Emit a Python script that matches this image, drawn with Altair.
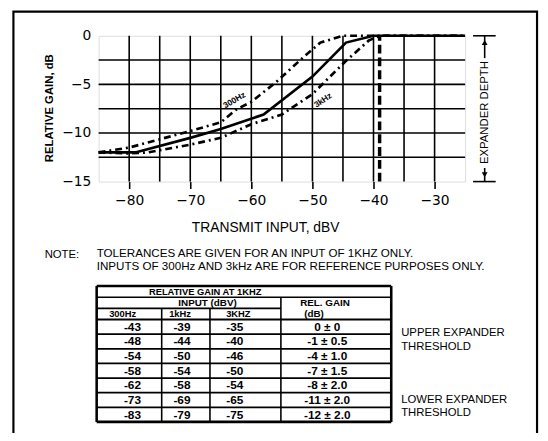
import altair as alt
import pandas as pd

# ---------------- graph data ----------------
X_TICKS = [-80, -70, -60, -50, -40, -30]
Y_TICKS = [0, -5, -10, -15]
GRID_X = [-80, -75, -70, -65, -60, -55, -50, -45, -40, -35, -30]
GRID_Y = [-2.5, -5, -7.5, -10, -12.5]

IN_1K = [-85, -79, -70, -65, -58, -50, -44.5, -40, -25]
GAIN_1K = [-12, -12, -10.5, -9.6, -8.1, -4.2, -0.7, 0, 0]
IN_300 = [-85, -80, -70, -65, -62.5, -60, -56, -52, -48.7, -45, -25]
GAIN_300 = [-12, -11.5, -9.8, -8.9, -7.6, -6.8, -4.8, -2.5, -0.7, 0, 0]
IN_3K = [-85, -80, -77, -70, -65, -60, -55, -50, -44.7, -40.8, -39, -25]
GAIN_3K = [-12, -12.1, -12.0, -11.2, -10.5, -9.1, -8.1, -6.0, -2.7, -0.5, 0, 0]
THRESHOLD_X = [-39]

# ---------------- table data ----------------
COL_300 = ["-43", "-48", "-54", "-58", "-62", "-73", "-83"]
COL_1K = ["-39", "-44", "-50", "-54", "-58", "-69", "-79"]
COL_3K = ["-35", "-40", "-46", "-50", "-54", "-65", "-75"]
COL_GAIN = ["0 ± 0", "-1 ± 0.5", "-4 ± 1.0", "-7 ± 1.5", "-8 ± 2.0", "-11 ± 2.0", "-12 ± 2.0"]
HEADERS = ["300Hz", "1kHz", "3KHZ"]

FONT = "Liberation Sans"
NUMF = "DejaVu Sans"

# ---------------- graph layers ----------------
xsc = alt.Scale(domain=[-85, -25], nice=False, zero=False)
ysc = alt.Scale(domain=[-15, 0], nice=False, zero=False)
xaxis = alt.Axis(values=X_TICKS, grid=False, domain=False, ticks=True, tickSize=7,
                 tickWidth=1.6, tickColor="black", labelFont=NUMF, labelFontSize=14,
                 labelColor="black", labelPadding=5,
                 title="TRANSMIT INPUT, dBV", titleFont=FONT, titleFontSize=14,
                 titleFontWeight="normal", titleColor="black", titleX=169, titleY=47,
                 titleAlign="center", titleBaseline="middle")
yaxis = alt.Axis(values=Y_TICKS, grid=False, domain=False, ticks=False, labelFont=NUMF,
                 labelFontSize=14, labelColor="black", labelPadding=8,
                 title="RELATIVE GAIN, dB", titleFont=FONT, titleFontSize=11.5,
                 titleFontWeight="bold", titleColor="black", titleAngle=270,
                 titleX=-50, titleY=73, titleAlign="center", titleBaseline="middle")
X = alt.X("x:Q", scale=xsc, axis=xaxis)
Y = alt.Y("y:Q", scale=ysc, axis=yaxis)

gx = pd.DataFrame({"x": GRID_X, "y": -15, "y2": 0})
gy = pd.DataFrame({"y": GRID_Y, "x": -85, "x2": -25})
grid_v = alt.Chart(gx).mark_rule(color="black", strokeWidth=1.6).encode(x=X, y=Y, y2="y2:Q")
grid_h = alt.Chart(gy).mark_rule(color="black", strokeWidth=1.6).encode(x=X, y=Y, x2="x2:Q")

thr = pd.DataFrame({"x": THRESHOLD_X, "y": -15, "y2": 0})
thr_rule = alt.Chart(thr).mark_rule(color="black", strokeWidth=3.5, strokeDash=[9, 4]).encode(
    x=X, y=Y, y2="y2:Q")

def curve(xs, ys, dash):
    df = pd.DataFrame({"x": xs, "y": ys})
    kw = dict(color="black", strokeWidth=2.7)
    if dash:
        kw["strokeDash"] = dash
    return alt.Chart(df).mark_line(**kw).encode(x=X, y=Y)

c300 = curve(IN_300, GAIN_300, [7, 4, 2, 4])
c1k = curve(IN_1K, GAIN_1K, None)
c3k = curve(IN_3K, GAIN_3K, [7, 4, 2, 4])

lab = pd.DataFrame({"x": [-62.8, -48.3], "y": [-6.6, -6.6], "t": ["300Hz", "3kHz"],
                    "a": [330, 326]})
labels = alt.Chart(lab).mark_text(font=FONT, fontSize=8.5, fontWeight="bold", color="black").encode(
    x=X, y=Y, text="t:N", angle=alt.Angle("a:Q", scale=None))

DEP_X = -21.8
dep_seg = pd.DataFrame({"x": [DEP_X, DEP_X], "y": [0, -13.6], "y2": [-2.3, -15]})
dep_cap = pd.DataFrame({"x": [-23.7, -23.7], "x2": [-20.0, -20.0], "y": [0, -15]})
dep_arrow_up = pd.DataFrame({"x": [DEP_X], "y": [-0.7]})
dep_arrow_dn = pd.DataFrame({"x": [DEP_X], "y": [-14.3]})
dep_txt = pd.DataFrame({"x": [DEP_X], "y": [-7.9], "t": ["EXPANDER DEPTH"]})
d1 = alt.Chart(dep_seg).mark_rule(color="black", strokeWidth=1.6).encode(x=X, y=Y, y2="y2:Q")
d2 = alt.Chart(dep_cap).mark_rule(color="black", strokeWidth=1.6).encode(x=X, y=Y, x2="x2:Q")
d3 = alt.Chart(dep_arrow_up).mark_point(shape="triangle-up", filled=True, color="black",
                                         size=35, opacity=1).encode(x=X, y=Y)
d4 = alt.Chart(dep_arrow_dn).mark_point(shape="triangle-down", filled=True, color="black",
                                         size=35, opacity=1).encode(x=X, y=Y)
d5 = alt.Chart(dep_txt).mark_text(font=FONT, fontSize=11.5, angle=270, color="black").encode(
    x=X, y=Y, text="t:N")

frame_df = pd.DataFrame({"k": [0]})
frame = alt.Chart(frame_df).mark_rect(fill=None, stroke="black", strokeWidth=2.2).encode(
    x=alt.value(-86.5), x2=alt.value(445), y=alt.value(-24.5), y2=alt.value(440))

graph = alt.layer(grid_v, grid_h, thr_rule, c300, c1k, c3k, labels, d1, d2, d3, d4, d5, frame)

# ---------------- table layers ----------------
tx = alt.Scale(domain=[0, 1, 2, 3, 4], range=[-2, 64, 113, 185, 297], nice=False, zero=False)
ty = alt.Scale(domain=[0, 3, 10], range=[254, 288, 392], nice=False, zero=False)
TX = alt.X("c:Q", scale=tx, axis=None)
TY = alt.Y("r:Q", scale=ty, axis=None)

hl = pd.DataFrame({
    "r": [0, 1, 2, 3, 4, 5, 6, 7, 8, 9, 10],
    "c": [0, 0, 0, 0, 0, 0, 0, 0, 0, 0, 0],
    "c2": [4, 4, 3, 4, 4, 4, 4, 4, 4, 4, 4],
    "w": [2.6, 1.6, 1.6, 1.8, 1.8, 1.8, 1.8, 1.8, 1.8, 1.8, 2.8],
})
vl = pd.DataFrame({
    "c": [0, 1, 2, 3, 4],
    "r": [0, 2, 2, 1, 0],
    "r2": [10, 10, 10, 10, 10],
    "w": [2.6, 1.6, 1.6, 1.6, 2.6],
})
t_h = alt.Chart(hl).mark_rule(color="black").encode(
    x=TX, x2="c2:Q", y=TY, strokeWidth=alt.StrokeWidth("w:Q", scale=None))
t_v = alt.Chart(vl).mark_rule(color="black").encode(
    x=TX, y=TY, y2="r2:Q", strokeWidth=alt.StrokeWidth("w:Q", scale=None))

rows = []
for i in range(7):
    rows += [
        {"c": 0.55, "r": 3.5 + i, "t": COL_300[i], "s": 12},
        {"c": 1.42, "r": 3.5 + i, "t": COL_1K[i], "s": 12},
        {"c": 2.35, "r": 3.5 + i, "t": COL_3K[i], "s": 12},
        {"c": 3.42, "r": 3.5 + i, "t": COL_GAIN[i], "s": 12},
    ]
for j, h in enumerate(HEADERS):
    rows.append({"c": [0.4, 1.38, 2.4][j], "r": 2.5, "t": h, "s": 9.5})
rows += [
    {"c": 1.9, "r": 0.5, "t": "RELATIVE GAIN AT 1KHZ", "s": 9.5},
    {"c": 1.95, "r": 1.5, "t": "INPUT (dBV)", "s": 10},
    {"c": 3.4, "r": 1.55, "t": "REL. GAIN", "s": 10},
    {"c": 3.3, "r": 2.5, "t": "(dB)", "s": 10},
]
cells = pd.DataFrame(rows)
t_txt = alt.Chart(cells).mark_text(font=FONT, fontWeight="bold", color="black",
                                   baseline="middle").encode(
    x=TX, y=TY, text="t:N", size=alt.Size("s:Q", scale=None))

notes = pd.DataFrame({
    "c": [-0.8, 0.0, 0.0, 4.09, 4.09, 4.09, 4.09],
    "r": [-2.74, -2.91, -1.77, 3.94, 4.88, 8.52, 9.39],
    "t": ["NOTE:",
          "TOLERANCES ARE GIVEN FOR AN INPUT OF 1KHZ ONLY.",
          "INPUTS OF 300Hz AND 3kHz ARE FOR REFERENCE PURPOSES ONLY.",
          "UPPER EXPANDER", "THRESHOLD", "LOWER EXPANDER", "THRESHOLD"],
    "s": [11.5, 11.8, 11.8, 11.5, 11.5, 11.5, 11.5],
})
n_txt = alt.Chart(notes).mark_text(font=FONT, color="black", align="left",
                                   baseline="middle").encode(
    x=TX, y=TY, text="t:N", size=alt.Size("s:Q", scale=None))

table = alt.layer(t_h, t_v, t_txt, n_txt)

chart = alt.layer(graph, table).resolve_scale(x="independent", y="independent").properties(
    width=372, height=148, autosize="none",
    padding={"left": 92, "top": 25, "right": 76, "bottom": 252},
).configure_view(stroke="black", strokeWidth=2.6).configure(background="white")

chart.save("out.html", embed_options={"renderer": "svg", "actions": False})
